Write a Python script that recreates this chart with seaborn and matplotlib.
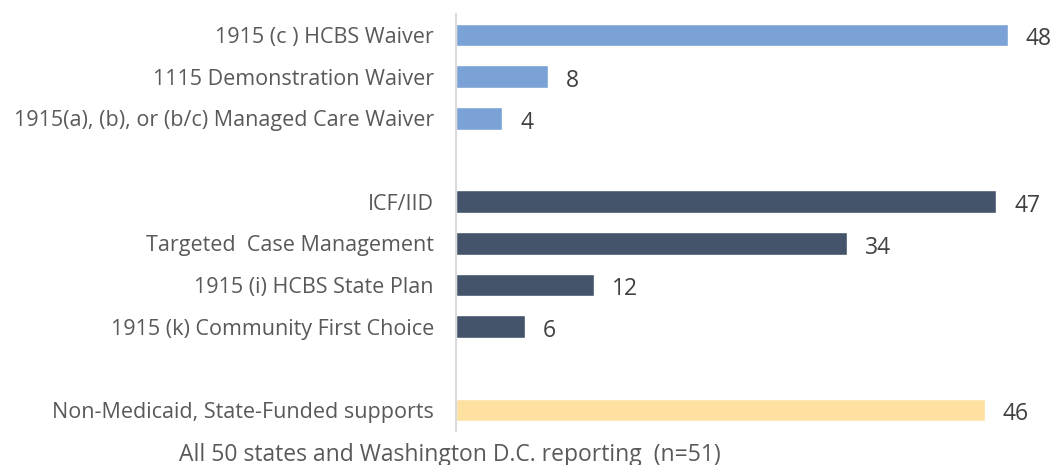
import matplotlib
matplotlib.use("Agg")
import matplotlib.pyplot as plt
import seaborn as sns
import pandas as pd

categories = [
    "1915 (c ) HCBS Waiver",
    "1115 Demonstration Waiver",
    "1915(a), (b), or (b/c) Managed Care Waiver",
    "ICF/IID",
    "Targeted  Case Management",
    "1915 (i) HCBS State Plan",
    "1915 (k) Community First Choice",
    "Non-Medicaid, State-Funded supports",
]
values = [48, 8, 4, 47, 34, 12, 6, 46]
groups = ["waiver", "waiver", "waiver", "plan", "plan", "plan", "plan", "state"]
order = categories[:3] + ["_gap1"] + categories[3:7] + ["_gap2"] + categories[7:]
palette = {"waiver": "#7BA2D6", "plan": "#44546A", "state": "#FEE0A1"}
footer = "All 50 states and Washington D.C. reporting  (n=51)"

df = pd.DataFrame({"category": categories, "value": values, "group": groups})

sns.set_theme(style="white")
plt.rcParams["font.family"] = ["Open Sans", "DejaVu Sans"]

fig = plt.figure(figsize=(10.52, 4.65), dpi=100)
ax = fig.add_axes([0.4335, 0.0735, 0.557, 0.896])

sns.barplot(data=df, y="category", x="value", hue="group", order=order,
            palette=palette, dodge=False, width=0.55, legend=False,
            saturation=1, ax=ax, orient="h")

for c in ax.containers:
    ax.bar_label(c, fmt="%d", padding=13, fontsize=16.5, color="#404040")
for t in ax.texts:
    t.xyann = (13, -3)

ax.set_xlim(0, 51)
ax.set_ylim(9.5, -0.5)
ax.set_xlabel("")
ax.set_ylabel("")
ax.set_xticks([])
ticklabels = ["" if o.startswith("_gap") else o for o in order]
ax.set_yticks(range(len(order)))
ax.set_yticklabels(ticklabels, fontsize=15.5, color="#595959")
ax.tick_params(axis="y", length=0, pad=16)
for s in ["top", "right", "bottom"]:
    ax.spines[s].set_visible(False)
ax.spines["left"].set_color("#D9D9D9")
ax.spines["left"].set_linewidth(1.5)

fig.text(450 / 1052, 1 - 455 / 465, footer, ha="center", va="center",
         fontsize=16.5, color="#595959")

fig.savefig("out.png", dpi=100)
